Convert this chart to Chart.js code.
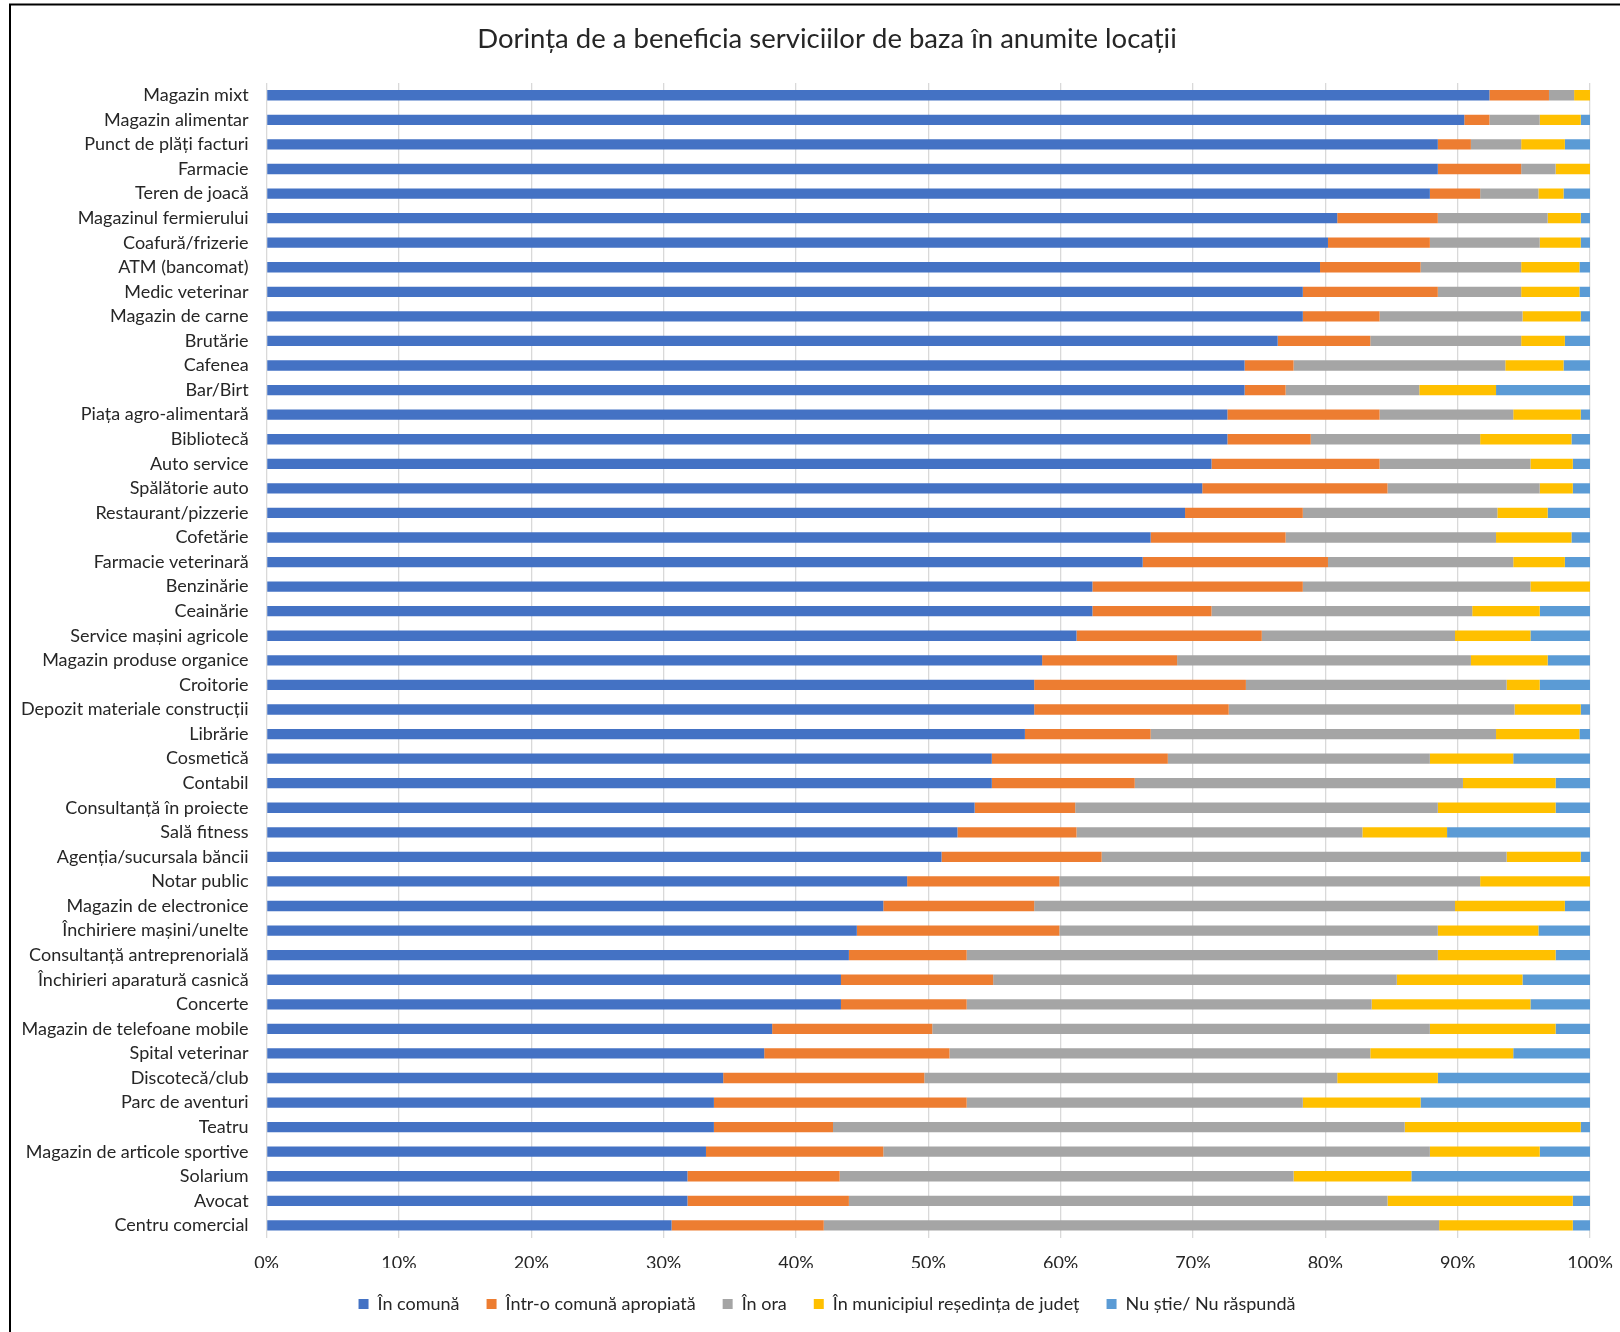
<!DOCTYPE html>
<html>
<head>
<meta charset="utf-8">
<script src="https://cdn.jsdelivr.net/npm/chart.js@4"></script>
<style>
  html, body { margin: 0; padding: 0; background: #fff; }
  #wrap { width: 1620px; height: 1332px; }
</style>
</head>
<body>
<div id="wrap"><canvas id="chart" width="1620" height="1332"></canvas></div>
<script>
// categories, top to bottom
const categories = [
  'Magazin mixt', 'Magazin alimentar', 'Punct de plăți facturi', 'Farmacie', 'Teren de joacă',
  'Magazinul fermierului', 'Coafură/frizerie', 'ATM (bancomat)', 'Medic veterinar', 'Magazin de carne',
  'Brutărie', 'Cafenea', 'Bar/Birt', 'Piața agro-alimentară', 'Bibliotecă',
  'Auto service', 'Spălătorie auto', 'Restaurant/pizzerie', 'Cofetărie', 'Farmacie veterinară',
  'Benzinărie', 'Ceainărie', 'Service mașini agricole', 'Magazin produse organice', 'Croitorie',
  'Depozit materiale construcții', 'Librărie', 'Cosmetică', 'Contabil', 'Consultanță în proiecte',
  'Sală fitness', 'Agenția/sucursala băncii', 'Notar public', 'Magazin de electronice', 'Închiriere mașini/unelte',
  'Consultanță antreprenorială', 'Închirieri aparatură casnică', 'Concerte', 'Magazin de telefoane mobile', 'Spital veterinar',
  'Discotecă/club', 'Parc de aventuri', 'Teatru', 'Magazin de articole sportive', 'Solarium',
  'Avocat', 'Centru comercial'
];

const seriesNames = [
  'În comună', 'Într-o comună apropiată', 'În ora',
  'În municipiul reședința de județ', 'Nu știe/ Nu răspundă'
];

// percentages per category
const inComuna = [
  92.4, 90.5, 88.5, 88.5, 87.9, 80.9, 80.2, 79.6, 78.3, 78.3,
  76.4, 73.9, 73.9, 72.6, 72.6, 71.4, 70.7, 69.4, 66.8, 66.2,
  62.4, 62.4, 61.2, 58.6, 58.0, 58.0, 57.3, 54.8, 54.8, 53.5,
  52.2, 51.0, 48.4, 46.6, 44.6, 44.0, 43.4, 43.4, 38.2, 37.6,
  34.5, 33.8, 33.8, 33.2, 31.8, 31.8, 30.6
];
const comunaApropiata = [
  4.5, 1.9, 2.5, 6.3, 3.8, 7.6, 7.7, 7.6, 10.2, 5.8,
  7.0, 3.7, 3.1, 11.5, 6.3, 12.7, 14.0, 8.9, 10.2, 14.0,
  15.9, 9.0, 14.0, 10.2, 16.0, 14.7, 9.5, 13.3, 10.8, 7.6,
  9.0, 12.1, 11.5, 11.4, 15.3, 8.9, 11.5, 9.5, 12.1, 14.0,
  15.2, 19.1, 9.0, 13.4, 11.5, 12.2, 11.5
];
const inOras = [
  1.9, 3.8, 3.8, 2.6, 4.4, 8.3, 8.3, 7.6, 6.3, 10.8,
  11.4, 16.0, 10.1, 10.1, 12.8, 11.4, 11.5, 14.7, 15.9, 14.0,
  17.2, 19.7, 14.6, 22.2, 19.7, 21.6, 26.1, 19.8, 24.8, 27.4,
  21.6, 30.6, 31.8, 31.8, 28.6, 35.6, 30.5, 30.6, 37.6, 31.8,
  31.2, 25.4, 43.2, 41.3, 34.3, 40.7, 46.5
];
const inMunicipiu = [
  1.2, 3.1, 3.3, 2.6, 1.9, 2.5, 3.1, 4.4, 4.4, 4.4,
  3.3, 4.4, 5.8, 5.1, 6.9, 3.2, 2.5, 3.8, 5.7, 3.9,
  4.5, 5.1, 5.7, 5.8, 2.5, 5.0, 6.3, 6.3, 7.0, 8.9,
  6.4, 5.6, 8.3, 8.3, 7.6, 8.9, 9.5, 12.0, 9.5, 10.8,
  7.6, 8.9, 13.3, 8.3, 8.9, 14.0, 10.1
];
const nuStie = [
  0, 0.7, 1.9, 0, 2.0, 0.7, 0.7, 0.8, 0.8, 0.7,
  1.9, 2.0, 7.1, 0.7, 1.4, 1.3, 1.3, 3.2, 1.4, 1.9,
  0, 3.8, 4.5, 3.2, 3.8, 0.7, 0.8, 5.8, 2.6, 2.6,
  10.8, 0.7, 0, 1.9, 3.9, 2.6, 5.1, 4.5, 2.6, 5.8,
  11.5, 12.8, 0.7, 3.8, 13.5, 1.3, 1.3
];

const xTicks = [0, 10, 20, 30, 40, 50, 60, 70, 80, 90, 100];

const colors = ['#4472C4', '#ED7D31', '#A5A5A5', '#FFC000', '#5B9BD5'];
const values = [inComuna, comunaApropiata, inOras, inMunicipiu, nuStie];

const FONT = 'Lato, "Open Sans", sans-serif';
const TEXT = '#262626';
const PAD_LEFT = 64;

// thin frame on top and left, like the original export
const framePlugin = {
  id: 'frame',
  afterLayout(chart) {
    // let long category labels run past the axis box instead of being clipped
    chart.scales.y.left = 0;
  },
  afterDraw(chart) {
    const ctx = chart.ctx;
    ctx.save();
    ctx.strokeStyle = '#000';
    ctx.lineWidth = 2;
    ctx.beginPath();
    ctx.moveTo(1620, 4.5);
    ctx.lineTo(10, 4.5);
    ctx.lineTo(10, 1332);
    ctx.stroke();
    ctx.restore();
  }
};

new Chart(document.getElementById('chart').getContext('2d'), {
  type: 'bar',
  data: {
    labels: categories,
    datasets: seriesNames.map((name, i) => ({
      label: name,
      data: values[i],
      backgroundColor: colors[i],
      borderWidth: 0,
      barPercentage: 1,
      categoryPercentage: 0.42
    }))
  },
  options: {
    indexAxis: 'y',
    responsive: false,
    animation: false,
    layout: { padding: { left: PAD_LEFT, right: 30, top: 0, bottom: 9 } },
    plugins: {
      title: {
        display: true,
        text: 'Dorința de a beneficia serviciilor de baza în anumite locații',
        color: TEXT,
        font: { family: FONT, size: 27.5, weight: 'normal' },
        padding: { top: 23, bottom: 27 }
      },
      legend: {
        position: 'bottom',
        labels: {
          color: TEXT,
          font: { family: FONT, size: 18 },
          boxWidth: 10,
          boxHeight: 10,
          padding: 27
        }
      },
      tooltip: { enabled: false }
    },
    scales: {
      x: {
        stacked: true,
        min: 0,
        max: 100,
        afterBuildTicks(scale) { scale.ticks = xTicks.map(v => ({ value: v })); },
        afterFit(scale) {
          scale.height = 30.3;
          scale.paddingLeft = 0;
          scale.paddingRight = 0;
        },
        ticks: {
          color: TEXT,
          font: { family: FONT, size: 18 },
          padding: 14.5,
          callback: v => v + '%'
        },
        grid: { color: '#D9D9D9', lineWidth: 1.3, drawTicks: false },
        border: { display: false }
      },
      y: {
        stacked: true,
        afterFit(scale) { scale.width = 266.6 - PAD_LEFT; },
        ticks: {
          color: TEXT,
          font: { family: FONT, size: 18 },
          padding: 18,
          autoSkip: false
        },
        grid: { display: false, drawTicks: false },
        border: { display: false }
      }
    }
  },
  plugins: [framePlugin]
});
</script>
</body>
</html>
